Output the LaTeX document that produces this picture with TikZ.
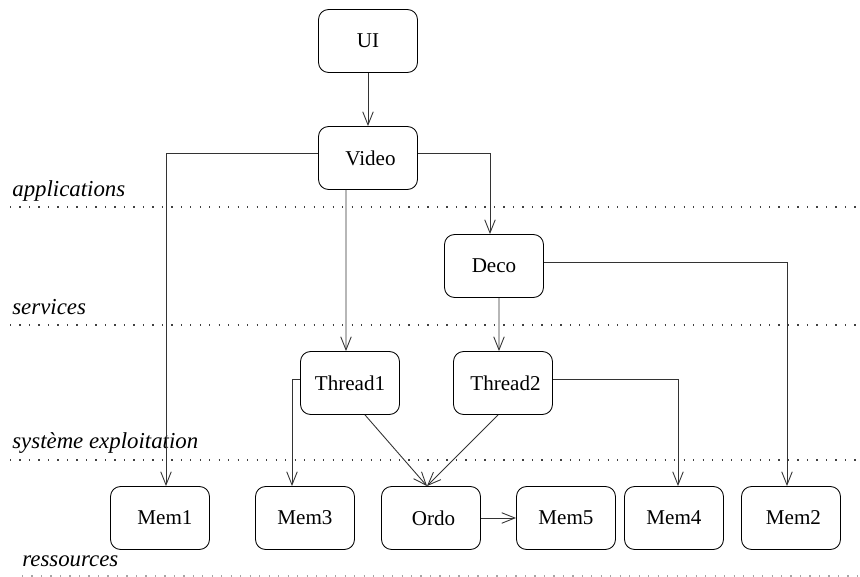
\documentclass[tikz,border=0pt]{standalone}
\usepackage{fontspec}
\setmainfont{Liberation Serif}
\usetikzlibrary{arrows.meta}

\tikzset{
	comp/.style={draw,rounded corners=0.2cm,minimum width=1.98cm,minimum height=1.26cm,inner sep=0,line width=0.5pt,font=\fontsize{12}{14}\selectfont},
	layer/.style={draw=black!75,line width=0.7pt,dash pattern=on 0.7pt off 4.7pt},
	layername/.style={anchor=base west,inner sep=0,font=\fontsize{13}{15}\selectfont\itshape},
	link/.style={-{Straight Barb[length=7.5pt,width=6pt]},line width=0.5pt,draw=black!80},
}

\begin{document}
\begin{tikzpicture}[x=0.02cm,y=-0.02cm]
	\useasboundingbox (0,0) rectangle (860,577);
	\draw[layer] (10,207) -- (860,207);
	\draw[layer] (10,325) -- (860,325);
	\draw[layer] (10,460) -- (860,460);
	\draw[layer,draw=black!35] (22,576) -- (860,576);
	\node[layername] (applications) at (12,197) {applications};
	\node[layername] (services) at (12,315) {services};
	\node[layername] (systeme) at (12,449) {système exploitation};
	\node[layername] (ressources) at (22,567) {ressources};
	\node[comp] (ui) at (368,41) {UI};
	\node[comp] (video) at (368,158) {\hspace{0.1cm}Video};
	\node[comp] (deco) at (494,266) {Deco};
	\node[comp] (thread1) at (350,383) {Thread1};
	\node[comp] (thread2) at (503,383) {\hspace{0.1cm}Thread2};
	\node[comp] (mem1) at (160,518) {\hspace{0.2cm}Mem1};
	\node[comp] (mem3) at (305,518) {Mem3};
	\node[comp] (ordo) at (431,518) {\hspace{0.1cm}Ordo};
	\node[comp] (mem5) at (566,518) {Mem5};
	\node[comp] (mem4) at (674,518) {Mem4};
	\node[comp] (mem2) at (791,518) {\hspace{0.1cm}Mem2};
	\draw[link] (ui) -- (video);
	\draw[link] ([yshift=0.1cm]video.west) -| ([xshift=0.12cm]mem1.north);
	\draw[link] ([yshift=0.1cm]video.east) -| ([xshift=-0.08cm]deco.north);
	\draw[link] ([xshift=-0.44cm]video.south) -- ([xshift=-0.08cm]thread1.north);
	\draw[link] ([xshift=0.1cm]deco.south) -- ([xshift=-0.08cm]thread2.north);
	\draw[link] ([yshift=0.08cm]deco.east) -| ([xshift=-0.08cm]mem2.north);
	\draw[link] ([yshift=0.08cm]thread1.west) -| ([xshift=-0.26cm]mem3.north);
	\draw[link] ([xshift=0.3cm]thread1.south) -- ([xshift=-0.08cm]ordo.north);
	\draw[link] ([xshift=-0.1cm]thread2.south) -- ([xshift=-0.08cm]ordo.north);
	\draw[link] ([yshift=0.08cm]thread2.east) -| ([xshift=0.08cm]mem4.north);
	\draw[link] (ordo) -- (mem5);
\end{tikzpicture}
\end{document}
